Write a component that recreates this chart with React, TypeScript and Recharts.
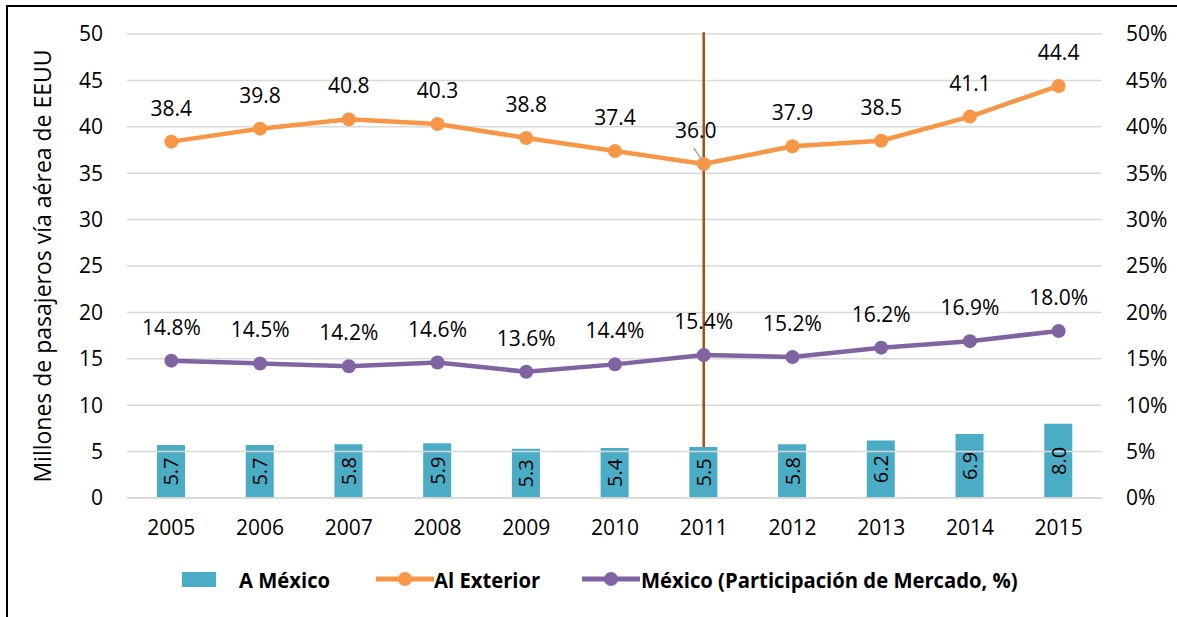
import React from 'react';
import {
  ComposedChart, Bar, Line, XAxis, YAxis, LabelList, Legend, ReferenceLine,
} from 'recharts';

const years = ['2005', '2006', '2007', '2008', '2009', '2010', '2011', '2012', '2013', '2014', '2015'];
const aMexico = [5.7, 5.7, 5.8, 5.9, 5.3, 5.4, 5.5, 5.8, 6.2, 6.9, 8.0];
const alExterior = [38.4, 39.8, 40.8, 40.3, 38.8, 37.4, 36.0, 37.9, 38.5, 41.1, 44.4];
const participacion = [14.8, 14.5, 14.2, 14.6, 13.6, 14.4, 15.4, 15.2, 16.2, 16.9, 18.0];
const leftTicks = [0, 5, 10, 15, 20, 25, 30, 35, 40, 45, 50];
const rightTicks = [0, 5, 10, 15, 20, 25, 30, 35, 40, 45, 50];

const data = years.map((y, i) => ({
  year: y,
  mexico: aMexico[i],
  exterior: alExterior[i],
  share: participacion[i],
}));

const BLUE = '#4BACC6';
const ORANGE = '#F79646';
const PURPLE = '#8064A2';
const GRID = '#D9D9D9';
const FONT = '"Open Sans", sans-serif';

const ExteriorLabel = (props: any) => {
  const { x, y, value, index } = props;
  const shift = index === 6 ? -8 : 0;
  return (
    <g>
      {index === 6 && (
        <line x1={x - 10} y1={y - 16} x2={x - 2} y2={y - 4} stroke="#A6A6A6" strokeWidth={1.5} />
      )}
      <text x={x + shift} y={y - 26} textAnchor="middle" fontFamily={FONT} fontSize={21} fill="#000">
        {Number(value).toFixed(1)}
      </text>
    </g>
  );
};

const ShareLabel = (props: any) => {
  const { x, y, value } = props;
  return (
    <text x={x} y={y - 26} textAnchor="middle" fontFamily={FONT} fontSize={21} fill="#000">
      {Number(value).toFixed(1)}%
    </text>
  );
};

const BarLabel = (props: any) => {
  const { x, y, width, height, value } = props;
  const cx = x + width / 2;
  const cy = y + height / 2;
  return (
    <text
      x={cx}
      y={cy}
      transform={`rotate(-90 ${cx} ${cy})`}
      textAnchor="middle"
      dominantBaseline="central"
      fontFamily={FONT}
      fontSize={20}
      fill="#000"
    >
      {Number(value).toFixed(1)}
    </text>
  );
};

const LegendContent = () => {
  const textStyle: React.CSSProperties = {
    position: 'absolute',
    top: 566,
    fontFamily: FONT,
    fontWeight: 700,
    fontSize: 22,
    color: '#000',
    whiteSpace: 'nowrap',
    lineHeight: '26px',
    transform: 'scaleX(0.92)',
    transformOrigin: 'left center',
  };
  const lineMarker = (left: number, color: string) => (
    <svg style={{ position: 'absolute', left, top: 569 }} width={58} height={20}>
      <line x1={0} y1={10} x2={58} y2={10} stroke={color} strokeWidth={5} />
      <circle cx={29} cy={10} r={7} fill={color} />
    </svg>
  );
  return (
    <div style={{ position: 'relative', height: 0, width: 1177 }}>
      <div style={{ position: 'absolute', left: 182, top: 572, width: 34, height: 15, background: BLUE }} />
      <div style={{ ...textStyle, left: 239 }}>A México</div>
      {lineMarker(376, ORANGE)}
      <div style={{ ...textStyle, left: 434 }}>Al Exterior</div>
      {lineMarker(582, PURPLE)}
      <div style={{ ...textStyle, left: 641 }}>México (Participación de Mercado, %)</div>
    </div>
  );
};

export default function App() {
  return (
    <div style={{ position: 'absolute', left: 0, top: 0, width: 1177, height: 617, background: '#fff', overflow: 'hidden' }}>
      <div
        style={{
          position: 'absolute', left: 6, top: 5, width: 1300, height: 700,
          borderTop: '2px solid #000', borderLeft: '2px solid #000',
        }}
      />
      <ComposedChart
        width={1177}
        height={617}
        data={data}
        margin={{ top: 34, right: 0, bottom: 89, left: 0 }}
        barCategoryGap={0}
      >
        {leftTicks.map((t) => (
          <ReferenceLine key={`g${t}`} yAxisId="left" y={t} stroke={GRID} strokeWidth={1.5} />
        ))}
        <XAxis
          dataKey="year"
          height={30}
          tickLine={false}
          axisLine={{ stroke: GRID, strokeWidth: 1.5 }}
          tickSize={0}
          tickMargin={22}
          tick={{ fontFamily: FONT, fontSize: 21, fill: '#000' }}
        />
        <YAxis
          yAxisId="left"
          width={127}
          domain={[0, 50]}
          ticks={leftTicks}
          tickLine={false}
          axisLine={false}
          tickSize={0}
          tickMargin={24}
          tick={{ fontFamily: FONT, fontSize: 21, fill: '#000' }}
          label={{
            content: (p: any) => {
              const vb = p.viewBox || { x: 0, y: 34, height: 464 };
              const cx = vb.x + 42;
              const cy = vb.y + vb.height / 2;
              return (
                <text
                  x={cx}
                  y={cy}
                  transform={`rotate(-90 ${cx} ${cy})`}
                  textAnchor="middle"
                  dominantBaseline="central"
                  fontFamily={FONT}
                  fontSize={23}
                  fill="#000"
                >
                  Millones de pasajeros vía aérea de EEUU
                </text>
              );
            },
          }}
        />
        <YAxis
          yAxisId="right"
          orientation="right"
          width={74}
          domain={[0, 50]}
          ticks={rightTicks}
          tickFormatter={(v: number) => `${v}%`}
          tickLine={false}
          axisLine={{ stroke: '#ffffff', strokeWidth: 3 }}
          tickSize={0}
          tickMargin={23}
          tick={{ fontFamily: FONT, fontSize: 21, fill: '#000', textAnchor: 'start' }}
        />
        <Bar yAxisId="left" dataKey="mexico" fill={BLUE} barSize={28} isAnimationActive={false}>
          <LabelList dataKey="mexico" content={BarLabel} />
        </Bar>
        <ReferenceLine
          yAxisId="left"
          segment={[{ x: '2011', y: 50.2 }, { x: '2011', y: 5.5 }]}
          stroke="#A0510F"
          strokeWidth={2.5}
          ifOverflow="visible"
        />
        <Line
          yAxisId="left"
          dataKey="exterior"
          stroke={ORANGE}
          strokeWidth={4.5}
          dot={{ r: 7, fill: ORANGE, stroke: ORANGE, strokeWidth: 0 }}
          activeDot={false}
          isAnimationActive={false}
        >
          <LabelList dataKey="exterior" content={ExteriorLabel} />
        </Line>
        <Line
          yAxisId="right"
          dataKey="share"
          stroke={PURPLE}
          strokeWidth={4.5}
          dot={{ r: 7, fill: PURPLE, stroke: PURPLE, strokeWidth: 0 }}
          activeDot={false}
          isAnimationActive={false}
        >
          <LabelList dataKey="share" content={ShareLabel} />
        </Line>
        <Legend
          content={LegendContent}
          wrapperStyle={{ position: 'absolute', left: 0, top: 0, width: 1177, height: 0 }}
        />
      </ComposedChart>
    </div>
  );
}
